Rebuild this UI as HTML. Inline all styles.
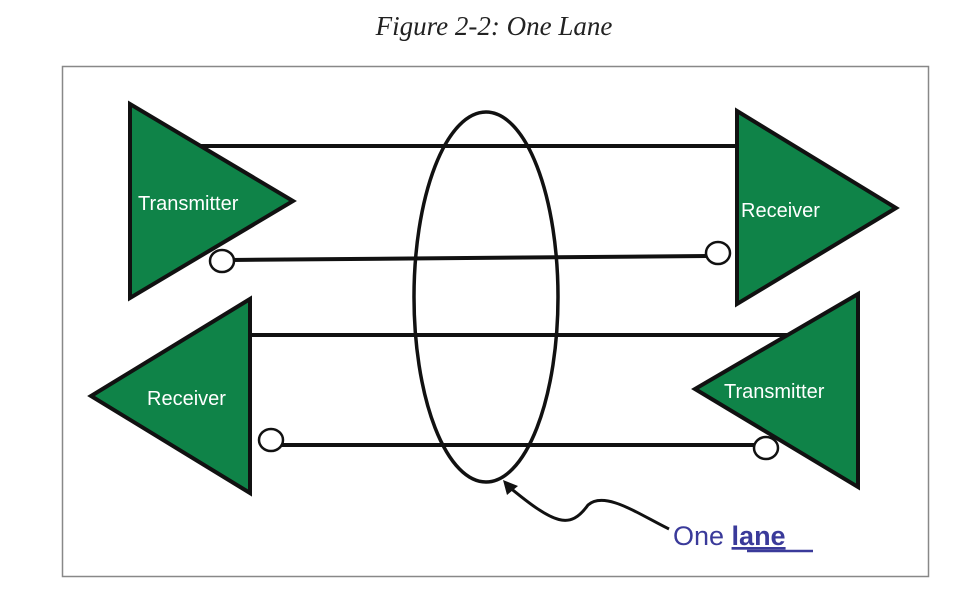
<!DOCTYPE html>
<html><head><style>
body{margin:0;background:#fff;width:971px;height:601px;overflow:hidden}
</style></head><body>
<svg width="971" height="601" xmlns="http://www.w3.org/2000/svg">
<text x="494" y="35" text-anchor="middle" font-family="Liberation Serif, serif" font-style="italic" font-size="27" fill="#222">Figure 2-2: One Lane</text>
<rect x="62.5" y="66.5" width="866" height="510" fill="#fff" stroke="#888" stroke-width="1.5"/>
<g stroke="#111" stroke-width="4" fill="none">
<line x1="200" y1="146" x2="740" y2="146"/>
<line x1="230" y1="260" x2="708" y2="256"/>
<line x1="250" y1="335" x2="792" y2="335"/>
<line x1="278" y1="445" x2="758" y2="445"/>
</g>
<g fill="#0f8348" stroke="#111" stroke-width="4" stroke-linejoin="miter">
<polygon points="130,104 130,298 293,201"/>
<polygon points="737,111 737,304 896,208"/>
<polygon points="250,299 250,493 91,396"/>
<polygon points="858,294 858,487 695,389"/>
</g>
<g fill="#fff" stroke="#111" stroke-width="2.5">
<ellipse cx="222" cy="261" rx="12" ry="11"/>
<ellipse cx="718" cy="253" rx="12" ry="11"/>
<ellipse cx="271" cy="440" rx="12" ry="11"/>
<ellipse cx="766" cy="448" rx="12" ry="11"/>
</g>
<g font-family="Liberation Sans, sans-serif" font-size="20" fill="#fff">
<text x="138" y="210">Transmitter</text>
<text x="741" y="217">Receiver</text>
<text x="147" y="405">Receiver</text>
<text x="724" y="398">Transmitter</text>
</g>
<ellipse cx="486" cy="297" rx="72" ry="185" fill="none" stroke="#111" stroke-width="3.5"/>
<path d="M669,529 C640,515 605,490 588,505 C570,530 555,525 508,486" fill="none" stroke="#111" stroke-width="3"/>
<polygon points="503,480 518,486 507,495" fill="#111"/>
<text x="673" y="545" font-family="Liberation Sans, sans-serif" font-size="27" fill="#3a3a9a">One <tspan font-weight="bold" text-decoration="underline">lane</tspan></text>
<line x1="747" y1="551" x2="813" y2="551" stroke="#3a3a9a" stroke-width="2.5"/>
</svg>
</body></html>
